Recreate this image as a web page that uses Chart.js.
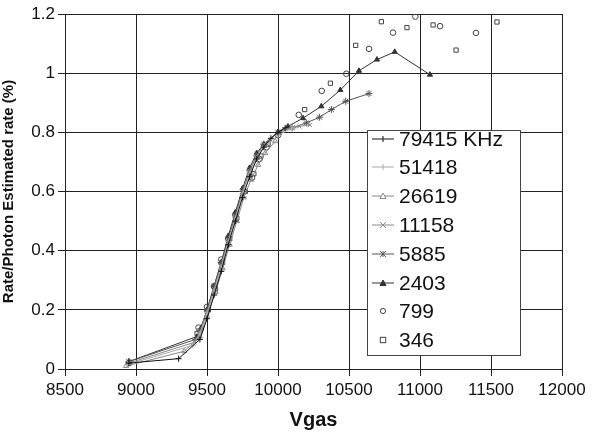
<!DOCTYPE html>
<html><head><meta charset="utf-8">
<script src="https://cdn.jsdelivr.net/npm/chart.js@4.4.0/dist/chart.umd.min.js"></script>
<style>
html,body{margin:0;padding:0;background:#fff;}
#wrap{position:relative;width:597px;height:438px;}
#legend{position:absolute;left:367px;top:130px;width:154px;height:226px;border:1px solid #444;background:#fff;box-sizing:border-box;font-family:"Liberation Sans",Arial,sans-serif;font-size:21px;color:#111;}
.item{position:absolute;left:4px;height:29px;display:flex;align-items:center;white-space:nowrap;}
.item svg{width:22px;height:12px;margin-right:5px;}
</style></head><body>
<div id="wrap"><canvas id="c" width="597" height="438"></canvas><div id="legend"></div></div>
<script>
const seriesNames = ["79415 KHz","51418","26619","11158","5885","2403","799","346"];
const xTicks = [8500,9000,9500,10000,10500,11000,11500,12000];
const yTicks = [0,0.2,0.4,0.6,0.8,1,1.2];

const x79415 = [8950,9300,9450,9500,9550,9600,9650,9700,9750,9800,9850,9900,9950,10000,10050];
const y79415 = [0.02,0.035,0.10,0.17,0.25,0.33,0.42,0.50,0.58,0.65,0.71,0.75,0.78,0.80,0.815];
const x51418 = [8940,9400,9450,9500,9550,9600,9650,9700,9750,9800,9850,9900,10000,10100];
const y51418 = [0.015,0.08,0.12,0.19,0.26,0.34,0.43,0.51,0.59,0.66,0.71,0.75,0.79,0.815];
const x26619 = [8930,9340,9450,9500,9560,9610,9660,9710,9760,9810,9860,9910,9980];
const y26619 = [0.01,0.06,0.11,0.18,0.26,0.34,0.42,0.50,0.58,0.64,0.69,0.73,0.77];
const x11158 = [8950,9410,9450,9500,9550,9600,9650,9700,9750,9800,9850,9900,10000,10100,10150,10225];
const y11158 = [0.02,0.09,0.12,0.19,0.27,0.35,0.43,0.51,0.60,0.67,0.72,0.76,0.80,0.815,0.82,0.825];
const x5885 = [8950,9420,9450,9500,9550,9600,9650,9700,9750,9800,9850,9900,10000,10100,10200,10293,10376,10477,10641];
const y5885 = [0.025,0.10,0.13,0.20,0.28,0.36,0.44,0.52,0.60,0.67,0.72,0.76,0.80,0.815,0.832,0.851,0.877,0.905,0.931];
const x2403 = [8950,9430,9460,9500,9550,9600,9650,9700,9750,9800,9850,9900,10000,10070,10176,10305,10439,10570,10697,10822,11070];
const y2403 = [0.025,0.11,0.14,0.20,0.28,0.36,0.45,0.53,0.61,0.68,0.73,0.76,0.80,0.82,0.848,0.888,0.943,1.008,1.046,1.072,0.995];
const x799 = [8950,9440,9500,9550,9600,9650,9700,9760,9817,9870,9920,10000,10146,10308,10481,10641,10810,10967,11141,11394];
const y799 = [0.02,0.14,0.21,0.28,0.37,0.44,0.52,0.60,0.647,0.71,0.75,0.79,0.859,0.94,0.998,1.082,1.137,1.191,1.159,1.136];
const x346 = [8950,9430,9510,9560,9610,9660,9710,9770,9830,9880,9930,10010,10188,10369,10547,10728,10908,11092,11254,11542];
const y346 = [0.02,0.12,0.20,0.27,0.36,0.44,0.51,0.60,0.66,0.72,0.76,0.80,0.877,0.966,1.094,1.174,1.154,1.163,1.078,1.173];

const xs = [x79415,x51418,x26619,x11158,x5885,x2403,x799,x346];
const ys = [y79415,y51418,y26619,y11158,y5885,y2403,y799,y346];
const styles = [
  {c:'#111', p:'cross', r:3, line:true, fill:false},
  {c:'#aaa', p:'cross', r:3, line:true, fill:false},
  {c:'#888', p:'triangle', r:3, line:true, fill:false},
  {c:'#888', p:'crossRot', r:3, line:true, fill:false},
  {c:'#555', p:'star', r:3.5, line:true, fill:false},
  {c:'#333', p:'triangle', r:3, line:true, fill:true},
  {c:'#444', p:'circle', r:2.8, line:false, fill:false},
  {c:'#444', p:'rect', r:3, line:false, fill:false}
];

const datasets = seriesNames.map((n,i)=>({
  label:n,
  data: xs[i].map((x,j)=>({x:x,y:ys[i][j]})),
  borderColor: styles[i].c,
  backgroundColor: styles[i].fill ? styles[i].c : '#fff',
  pointBorderColor: styles[i].c,
  pointBackgroundColor: styles[i].fill ? styles[i].c : 'rgba(255,255,255,0)',
  pointStyle: styles[i].p,
  pointRadius: styles[i].r,
  pointBorderWidth: 1,
  borderWidth: 1,
  showLine: styles[i].line,
  fill:false,
  tension:0
}));

const FONT = '"Liberation Sans", Arial, sans-serif';
const chart = new Chart(document.getElementById('c'), {
  type:'scatter',
  data:{datasets},
  options:{
    responsive:false, animation:false,
    layout:{padding:{left:0,right:35,top:14,bottom:0}},
    plugins:{legend:{display:false}, tooltip:{enabled:false}},
    scales:{
      x:{type:'linear', min:xTicks[0], max:xTicks[xTicks.length-1],
        afterBuildTicks:(s)=>{s.ticks = xTicks.map(v=>({value:v}));},
        afterFit:(s)=>{s.height = 69;},
        grid:{color:'#222', lineWidth:1, tickLength:7, drawTicks:true},
        border:{color:'#222'},
        ticks:{font:{family:FONT,size:17}, color:'#111', padding:4, maxRotation:0, autoSkip:false,
          callback:(v)=>String(v)},
        title:{display:true, text:'Vgas', font:{family:FONT,size:20,weight:'bold'}, color:'#111', padding:{top:2,bottom:6}}
      },
      y:{type:'linear', min:yTicks[0], max:yTicks[yTicks.length-1],
        afterBuildTicks:(s)=>{s.ticks = yTicks.map(v=>({value:v}));},
        afterFit:(s)=>{s.width = 65;},
        grid:{color:'#222', lineWidth:1, tickLength:7, drawTicks:true},
        border:{color:'#222'},
        ticks:{font:{family:FONT,size:17}, color:'#111', padding:3,
          callback:(v)=>String(Number(v.toFixed(1)))},
        title:{display:true, text:'Rate/Photon Estimated rate (%)', font:{family:FONT,size:15,weight:'bold'}, color:'#111', padding:{top:0,bottom:4}}
      }
    }
  }
});

// HTML legend built from datasets
function markerSVG(ds){
  const c = ds.pointBorderColor, st = ds.pointStyle;
  let s = '';
  if (ds.showLine) s += `<line x1="0" y1="6" x2="22" y2="6" stroke="${c}" stroke-width="1"/>`;
  const cx=11, cy=6, r=3;
  if (st==='cross') s += `<line x1="${cx}" y1="${cy-r}" x2="${cx}" y2="${cy+r}" stroke="${c}"/>`;
  if (st==='crossRot'||st==='star') s += `<line x1="${cx-r}" y1="${cy-r}" x2="${cx+r}" y2="${cy+r}" stroke="${c}"/><line x1="${cx-r}" y1="${cy+r}" x2="${cx+r}" y2="${cy-r}" stroke="${c}"/>`;
  if (st==='star') s += `<line x1="${cx}" y1="${cy-r}" x2="${cx}" y2="${cy+r}" stroke="${c}"/>`;
  if (st==='triangle') s += `<polygon points="${cx},${cy-r} ${cx+r},${cy+r-0.5} ${cx-r},${cy+r-0.5}" stroke="${c}" fill="${ds.pointBackgroundColor==='rgba(255,255,255,0)'?'#fff':c}"/>`;
  if (st==='circle') s += `<circle cx="${cx}" cy="${cy}" r="2.6" stroke="${c}" fill="#fff"/>`;
  if (st==='rect') s += `<rect x="${cx-2.7}" y="${cy-2.7}" width="5.4" height="5.4" stroke="${c}" fill="#fff"/>`;
  return `<svg viewBox="0 0 22 12">${s}</svg>`;
}
const leg = document.getElementById('legend');
chart.data.datasets.forEach((ds,i)=>{
  const d = document.createElement('div');
  d.className='item';
  d.style.top = (-7 + i*28.8)+'px';
  d.innerHTML = markerSVG(ds) + `<span>${ds.label}</span>`;
  leg.appendChild(d);
});
</script>
</body></html>
